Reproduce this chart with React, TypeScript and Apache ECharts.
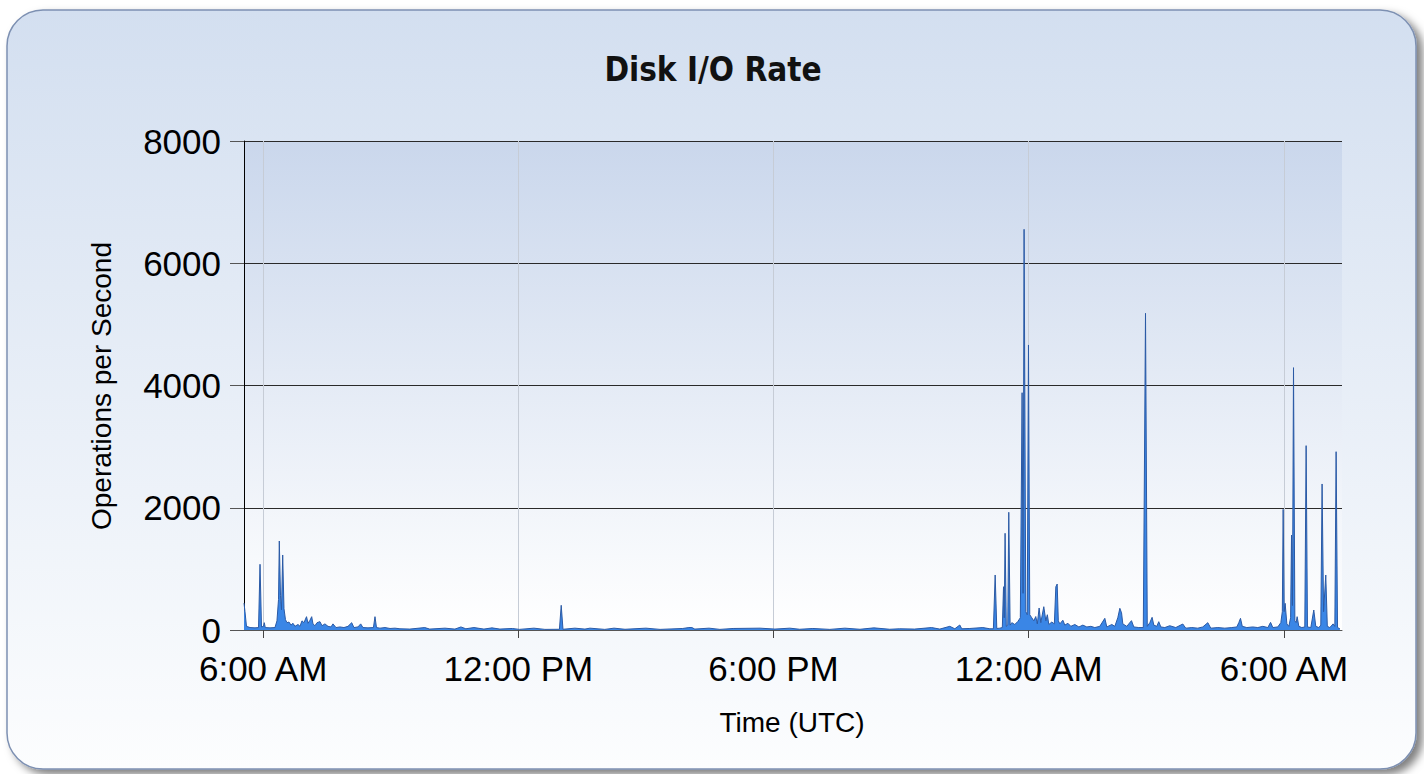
import React, { useEffect, useRef } from "react";
import * as echarts from "echarts";

// Window shown (UTC)
const windowStartUTC = Date.UTC(2013, 0, 1, 5, 33);
const windowEndUTC = Date.UTC(2013, 0, 2, 7, 22);

// Sample times, in minutes after the window start
const sampleMinutes = [
  0, 1.4, 3.5, 8.5, 15.5, 20.5, 22.6, 24.7, 27.5, 28.6, 30, 36.7, 43.7, 46.5, 48.7, 49.8, 51.5, 52.9, 54.6, 56.4,
  58.5, 60.6, 63.5, 66.3, 69.1, 71.9, 76.2, 79, 81.8, 84.6, 88.2, 90.3, 93.1, 95.5, 97.3, 100.1, 103, 107.2, 110, 114.2,
  118.5, 122.7, 125.5, 129.8, 135.4, 141, 146.7, 151.9, 155.1, 160.8, 164.6, 167.8, 174.9, 182.6, 184.8, 186.9, 191.8, 198.9, 206, 213,
  220, 234, 255, 262, 283.5, 297.6, 306, 313, 324.4, 338.5, 349.8, 361, 378.5, 388.5, 409, 424.5, 445, 447.5, 450, 466.8,
  481, 488, 509, 522, 537.5, 567, 587, 619, 627.6, 631.9, 636, 656, 671.4, 690, 728, 749, 770, 784, 802.5, 826.5,
  847.6, 869, 888.6, 911, 925, 946, 970, 981.6, 995.7, 1002.8, 1009.8, 1012.6, 1024, 1042.3, 1052.2, 1057.2, 1059.7, 1062, 1066.3, 1069.8,
  1071.5, 1072.5, 1073.7, 1075.4, 1077.5, 1078.9, 1080.8, 1083.2, 1087.4, 1091.7, 1095.2, 1097.7, 1099.1, 1100.5, 1102.9, 1105, 1106.7, 1108.5, 1111.4, 1114.2,
  1117, 1119.2, 1121.7, 1124.1, 1128.3, 1131.2, 1133.3, 1135.4, 1139.6, 1143.2, 1145.3, 1147.2, 1148.8, 1151, 1155.2, 1158, 1162.3, 1166.5, 1172.1, 1177.8,
  1183.4, 1189, 1194.7, 1200.3, 1207.3, 1214.4, 1217.2, 1224.3, 1228.5, 1232.7, 1235.6, 1238, 1239.8, 1245.4, 1252, 1255.3, 1262.3, 1268.7, 1271.8, 1274.3,
  1277.9, 1281.1, 1283.5, 1287.7, 1290.5, 1293.4, 1299, 1306, 1314.5, 1324.4, 1328.6, 1337.1, 1345.5, 1352.6, 1359.7, 1363.9, 1373.8, 1383.7, 1393.5, 1400.6,
  1403.4, 1405.8, 1408.3, 1414.7, 1423.1, 1430.2, 1437.3, 1444.4, 1448.2, 1451.4, 1458.4, 1462.7, 1464.8, 1466, 1467.4, 1468.8, 1471.2, 1474, 1476.5, 1477.8,
  1479.1, 1480.6, 1482.5, 1484.3, 1485.7, 1488.1, 1492.3, 1496.5, 1498.4, 1500.3, 1505, 1509.2, 1512, 1516.3, 1519.1, 1520.9, 1523, 1526.1, 1528.3, 1531.8,
  1536.5, 1538.9, 1540.7, 1542.7, 1546,
];

// Disk operations per second at each sample
const opsPerSecond = [
  440, 300, 60, 40, 35, 40, 1075, 50, 60, 120, 40, 35, 40, 150, 500, 1456, 560, 330, 1227, 350,
  170, 120, 130, 80, 110, 60, 90, 60, 150, 120, 218, 110, 160, 218, 100, 70, 120, 136, 70, 100,
  60, 50, 100, 40, 50, 40, 60, 120, 40, 50, 100, 40, 35, 40, 218, 40, 30, 40, 25, 30,
  20, 15, 40, 15, 30, 15, 50, 20, 40, 15, 35, 15, 25, 10, 30, 10, 12, 404, 12, 30,
  15, 30, 10, 30, 12, 30, 10, 25, 40, 40, 15, 30, 10, 25, 30, 15, 30, 12, 25, 10,
  30, 12, 35, 12, 20, 15, 40, 15, 60, 20, 82, 20, 25, 40, 20, 20, 900, 25, 30, 40,
  708, 200, 1582, 60, 80, 1926, 80, 120, 90, 140, 200, 3882, 600, 6555, 300, 250, 4663, 250, 200, 150,
  220, 100, 360, 120, 381, 150, 250, 90, 130, 100, 708, 752, 150, 100, 160, 80, 110, 60, 90, 50,
  80, 50, 60, 40, 60, 191, 50, 90, 60, 200, 355, 280, 100, 60, 153, 50, 40, 40, 5181, 60,
  120, 207, 80, 60, 136, 50, 40, 70, 40, 98, 30, 40, 30, 50, 120, 30, 40, 30, 40, 50,
  120, 191, 60, 40, 50, 40, 60, 40, 125, 40, 50, 120, 300, 1974, 300, 436, 100, 60, 200, 1554,
  400, 4292, 150, 120, 218, 60, 40, 50, 3016, 50, 40, 327, 60, 40, 80, 2389, 300, 900, 60, 40,
  100, 60, 2917, 40, 20,
];

// X axis ticks (UTC) and their labels
const tickTimes = [
  Date.UTC(2013, 0, 1, 6),
  Date.UTC(2013, 0, 1, 12),
  Date.UTC(2013, 0, 1, 18),
  Date.UTC(2013, 0, 2, 0),
  Date.UTC(2013, 0, 2, 6),
];
const tickLabels = ["6:00 AM", "12:00 PM", "6:00 PM", "12:00 AM", "6:00 AM"];

// Y axis
const yMin = 0;
const yMax = 8000;
const yInterval = 2000;

const chartTitle = "Disk I/O Rate";
const yAxisTitle = "Operations per Second";
const xAxisTitle = "Time (UTC)";

const SANS = "'Liberation Sans', Arial, sans-serif";
const TITLE_FONT = "'DejaVu Sans Condensed', 'DejaVu Sans', 'Noto Sans', sans-serif";

const MIN_MS = 60000;

export default function App() {
  const ref = useRef<HTMLDivElement>(null);

  useEffect(() => {
    if (!ref.current) return;
    const chart = echarts.init(ref.current, null, { renderer: "svg" });

    const data = sampleMinutes.map((m, i) => [m, opsPerSecond[i]]);
    const tickOffsets = tickTimes.map((t) => (t - windowStartUTC) / MIN_MS);
    const xMax = (windowEndUTC - windowStartUTC) / MIN_MS;

    chart.setOption({
      animation: false,
      backgroundColor: "#ffffff",
      graphic: [
        {
          type: "rect",
          z: -10,
          silent: true,
          shape: { x: 7, y: 10, width: 1409, height: 759, r: 36 },
          style: {
            fill: new echarts.graphic.LinearGradient(0, 0, 0, 1, [
              { offset: 0, color: "#d3dff0" },
              { offset: 1, color: "#fcfdfe" },
            ]),
            stroke: "#7d90b2",
            lineWidth: 1.5,
            shadowBlur: 8,
            shadowOffsetX: 6,
            shadowOffsetY: 5,
            shadowColor: "rgba(0,0,0,0.5)",
          },
        },
        {
          type: "text",
          z: 100,
          x: 713,
          y: 69,
          style: {
            text: chartTitle,
            fontFamily: TITLE_FONT,
            fontWeight: "bold",
            fontSize: 33,
            fill: "#111",
            textAlign: "center",
            textVerticalAlign: "middle",
          },
        },
        {
          type: "text",
          z: 100,
          x: 101,
          y: 386,
          rotation: Math.PI / 2,
          style: {
            text: yAxisTitle,
            fontFamily: SANS,
            fontSize: 28,
            fill: "#000",
            textAlign: "center",
            textVerticalAlign: "middle",
          },
        },
        {
          type: "text",
          z: 100,
          x: 792,
          y: 722,
          style: {
            text: xAxisTitle,
            fontFamily: SANS,
            fontSize: 28,
            fill: "#000",
            textAlign: "center",
            textVerticalAlign: "middle",
          },
        },
      ],
      grid: {
        left: 244,
        top: 141,
        right: 82,
        bottom: 144,
        show: true,
        borderWidth: 0,
        backgroundColor: new echarts.graphic.LinearGradient(0, 0, 0, 1, [
          { offset: 0, color: "#cad7ec" },
          { offset: 1, color: "#ffffff" },
        ]),
      },
      xAxis: {
        type: "value",
        min: 0,
        max: xMax,
        axisLine: { show: true, lineStyle: { color: "#555", width: 1 } },
        axisTick: {
          show: true,
          customValues: tickOffsets,
          length: 8,
          lineStyle: { color: "#444", width: 1 },
        },
        axisLabel: {
          customValues: tickOffsets,
          formatter: (v: number) => {
            const i = tickOffsets.findIndex((o) => Math.abs(o - v) < 0.01);
            return i >= 0 ? tickLabels[i] : "";
          },
          fontFamily: SANS,
          fontSize: 35,
          color: "#000",
          margin: 21,
        },
        splitLine: { show: true, lineStyle: { color: "#c6ccd6", width: 1 } },
      },
      yAxis: {
        type: "value",
        min: yMin,
        max: yMax,
        interval: yInterval,
        axisLine: { show: true, lineStyle: { color: "#000", width: 1 } },
        axisTick: { show: true, length: 14, lineStyle: { color: "#555", width: 1 } },
        axisLabel: {
          formatter: (v: number) => String(v),
          fontFamily: SANS,
          fontSize: 35,
          color: "#000",
          margin: 23,
        },
        splitLine: { show: true, lineStyle: { color: "#2a2a2a", width: 1 } },
      },
      series: [
        {
          type: "line",
          data,
          symbol: "none",
          showSymbol: false,
          lineStyle: { color: "#2b5aa5", width: 1 },
          areaStyle: { color: "#3a86e6", opacity: 1 },
          z: 3,
        },
      ],
    });

    return () => chart.dispose();
  }, []);

  return (
    <div
      ref={ref}
      style={{ position: "fixed", left: 0, top: 0, width: 1424, height: 774 }}
    />
  );
}
